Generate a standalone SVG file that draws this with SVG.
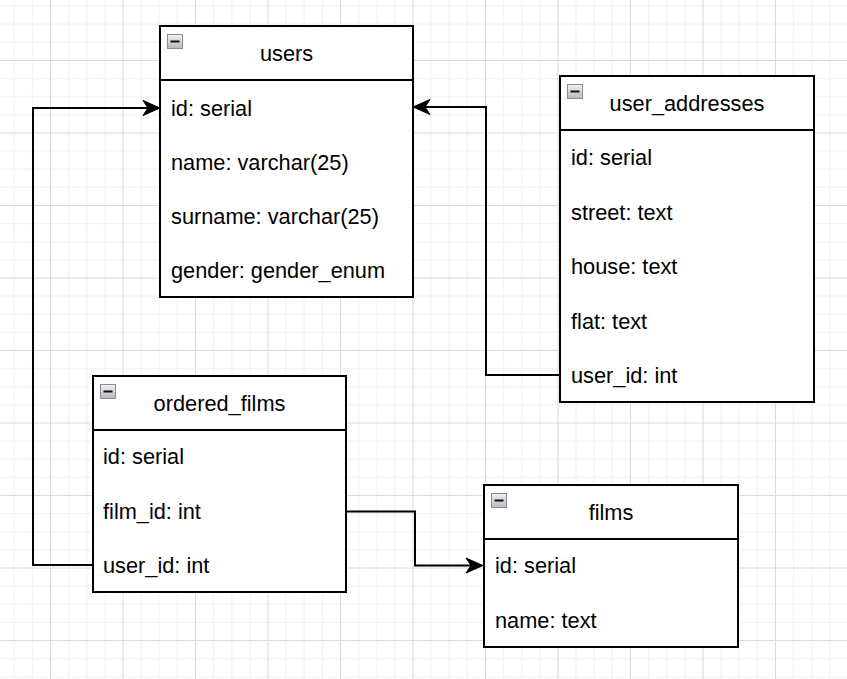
<svg xmlns="http://www.w3.org/2000/svg" width="847" height="679" viewBox="0 0 847 679">
<defs>
<pattern id="grid" patternUnits="userSpaceOnUse" x="50" y="60" width="72.5" height="72.5">
<path d="M18.625,0V72.5M36.75,0V72.5M54.875,0V72.5M0,18.625H72.5M0,36.75H72.5M0,54.875H72.5" stroke="#efefef" stroke-width="1" fill="none"/>
<path d="M0.5,0V72.5M0,0.5H72.5" stroke="#dadada" stroke-width="1" fill="none"/>
</pattern>
<marker id="arr" viewBox="-23 -9 24 18" refX="-5" refY="0" markerWidth="24" markerHeight="18" markerUnits="userSpaceOnUse" orient="auto">
<path d="M0,0 L-17,-7.5 L-12,0 L-17,7.5 Z" fill="#000" stroke="#000" stroke-width="1" stroke-linejoin="miter"/>
</marker>
<linearGradient id="ig" x1="0" y1="0" x2="0" y2="1">
<stop offset="0" stop-color="#f2f2f2"/>
<stop offset="1" stop-color="#b8b8c0"/>
</linearGradient>
<g id="icon">
<rect x="0.5" y="0.5" width="15" height="14" fill="url(#ig)" stroke="#8a8a95" stroke-width="1"/>
<path d="M3.5,7.5H12.5" stroke="#111" stroke-width="2"/>
</g>
</defs>
<style>
.box{fill:#fff;stroke:#000;stroke-width:2}
.sep{stroke:#000;stroke-width:2}
text{font-family:"Liberation Sans",Arial,Helvetica,sans-serif;font-size:21.75px;fill:#000}
.t{text-anchor:middle}
.edge{fill:none;stroke:#000;stroke-width:2;marker-end:url(#arr)}
</style>
<rect width="847" height="679" fill="#fff"/>
<rect width="847" height="679" fill="url(#grid)"/>

<g id="connectors">
<path class="edge" d="M93,565 H33 V108 H155"/>
<path class="edge" d="M560,375 H486 V107 H418"/>
<path class="edge" d="M346,511.5 H415 V565.5 H478"/>
</g>

<g id="users">
<rect class="box" x="160" y="26" width="253" height="271"/>
<line class="sep" x1="160" y1="80" x2="413" y2="80"/>
<use href="#icon" x="167" y="34"/>
<text class="t" x="286.5" y="60.5">users</text>
<text x="171" y="115.5">id: serial</text>
<text x="171" y="169.5">name: varchar(25)</text>
<text x="171" y="224">surname: varchar(25)</text>
<text x="171" y="278">gender: gender_enum</text>
</g>

<g id="user_addresses">
<rect class="box" x="560" y="76" width="254" height="326"/>
<line class="sep" x1="560" y1="130" x2="814" y2="130"/>
<use href="#icon" x="567" y="84"/>
<text class="t" x="687" y="111">user_addresses</text>
<text x="571" y="165">id: serial</text>
<text x="571" y="219.5">street: text</text>
<text x="571" y="274">house: text</text>
<text x="571" y="328.5">flat: text</text>
<text x="571" y="383">user_id: int</text>
</g>

<g id="ordered_films">
<rect class="box" x="93" y="376" width="253" height="216"/>
<line class="sep" x1="93" y1="430" x2="346" y2="430"/>
<use href="#icon" x="100" y="384"/>
<text class="t" x="219.5" y="410.5">ordered_films</text>
<text x="103" y="464">id: serial</text>
<text x="103" y="518.5">film_id: int</text>
<text x="103" y="573">user_id: int</text>
</g>

<g id="films">
<rect class="box" x="484" y="485" width="254" height="162"/>
<line class="sep" x1="484" y1="539" x2="738" y2="539"/>
<use href="#icon" x="491" y="493"/>
<text class="t" x="611" y="519.5">films</text>
<text x="495" y="573">id: serial</text>
<text x="495" y="627.5">name: text</text>
</g>
</svg>
